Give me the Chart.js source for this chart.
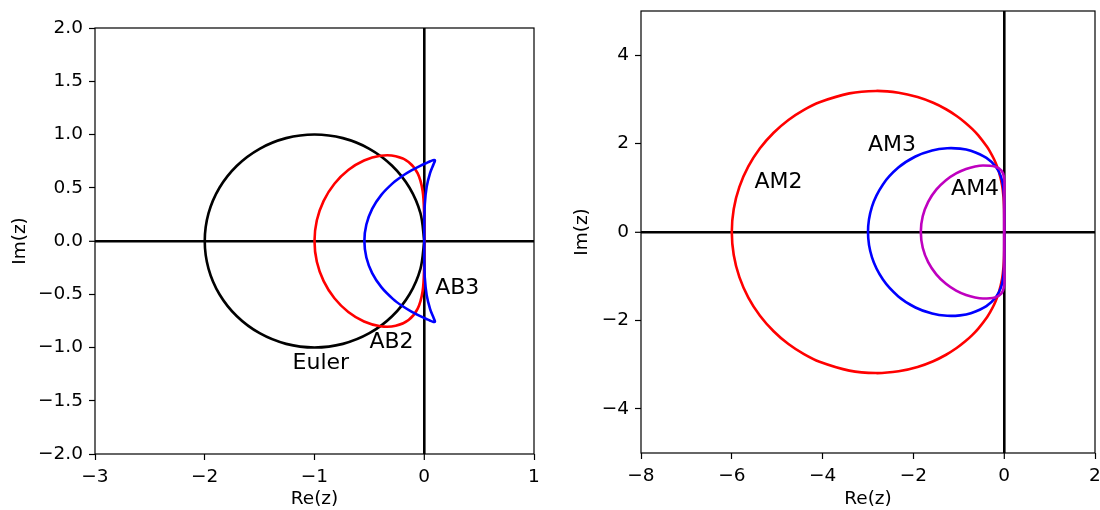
<!DOCTYPE html>
<html>
<head>
<meta charset="utf-8">
<script src="https://cdn.jsdelivr.net/npm/chart.js@4/dist/chart.umd.min.js"></script>
<style>
  html, body { margin: 0; padding: 0; background: #fff; }
  .panel { position: absolute; top: 0; width: 550px; height: 510px; }
  #leftBox  { left: 0; }
  #rightBox { left: 550px; }
</style>
</head>
<body>
<div class="panel" id="leftBox"><canvas id="abChart" width="550" height="510"></canvas></div>
<div class="panel" id="rightBox"><canvas id="amChart" width="550" height="510"></canvas></div>

<script>
/* ============================================================
   Stability region boundaries — Adams-Bashforth / Adams-Moulton
   ============================================================ */

/* ── left panel: explicit methods ── */
const eulerX = [0, -0.0341, -0.134, -0.2929, -0.5, -0.7412, -1, -1.2588, -1.5, -1.7071, -1.866, -1.9659, -2,
                -1.9659, -1.866, -1.7071, -1.5, -1.2588, -1, -0.7412, -0.5, -0.2929, -0.134, -0.0341, 0];
const eulerY = [0, 0.2588, 0.5, 0.7071, 0.866, 0.9659, 1, 0.9659, 0.866, 0.7071, 0.5, 0.2588, 0,
                -0.2588, -0.5, -0.7071, -0.866, -0.9659, -1, -0.9659, -0.866, -0.7071, -0.5, -0.2588, 0];

const ab2X = [0, -0.0011, -0.015, -0.0596, -0.1429, -0.2601, -0.4, -0.5487, -0.6923, -0.8184, -0.9166, -0.9787, -1,
              -0.9787, -0.9166, -0.8184, -0.6923, -0.5487, -0.4, -0.2601, -0.1429, -0.0596, -0.015, -0.0011, 0];
const ab2Y = [0, 0.2546, 0.4721, 0.6352, 0.7423, 0.7964, 0.8, 0.7554, 0.6662, 0.5376, 0.3772, 0.1944, 0,
              -0.1944, -0.3772, -0.5376, -0.6662, -0.7554, -0.8, -0.7964, -0.7423, -0.6352, -0.4721, -0.2546, 0];

const ab3X = [0, 0.0003, 0.0051, 0.0221, 0.0535, 0.0856, 0.0951, 0.0972, 0.0911, 0.0768, 0.0553, 0.0275,
              -0.0414, -0.1207, -0.2032, -0.2835, -0.391, -0.4746, -0.5274, -0.5455,
              -0.5274, -0.4746, -0.391, -0.2835, -0.2032, -0.1207, -0.0414,
              0.0275, 0.0553, 0.0768, 0.0911, 0.0972, 0.0951, 0.0856, 0.0535, 0.0221, 0.0051, 0.0003, 0];
const ab3Y = [0, 0.1745, 0.347, 0.5083, 0.6396, 0.7229, 0.7456, 0.7573, 0.7604, 0.757, 0.7485, 0.7364,
              0.7034, 0.6606, 0.6081, 0.5455, 0.4332, 0.3012, 0.1545, 0,
              -0.1545, -0.3012, -0.4332, -0.5455, -0.6081, -0.6606, -0.7034,
              -0.7364, -0.7485, -0.757, -0.7604, -0.7573, -0.7456, -0.7229, -0.6396, -0.5083, -0.347, -0.1745, 0];

/* ── right panel: implicit methods ── */
const am2X = [0, -0.0002, -0.0031, -0.0152, -0.0472, -0.1144, -0.1897, -0.24, -0.3009, -0.3745, -0.5705, -0.7001,
              -0.8571, -1.0479, -1.2801, -1.5631, -1.9078, -2.3255, -2.8257, -3.411, -4.0676, -4.4104, -4.753,
              -5.079, -5.3795, -5.6359, -5.833, -5.9574, -6,
              -5.9574, -5.833, -5.6359, -5.3795, -5.079, -4.753, -4.4104, -4.0676, -3.411, -2.8257, -2.3255,
              -1.9078, -1.5631, -1.2801, -1.0479, -0.8571, -0.7001, -0.5705, -0.3745, -0.3009, -0.24, -0.1897,
              -0.1144, -0.0472, -0.0152, -0.0031, -0.0002, 0];
const am2Y = [0, 0.2618, 0.5242, 0.7896, 1.0638, 1.3563, 1.5677, 1.68, 1.7974, 1.9205, 2.1853, 2.3271,
              2.4744, 2.6255, 2.7771, 2.9231, 3.0534, 3.1515, 3.1917, 3.1364, 2.9358, 2.7636, 2.5349,
              2.2452, 1.8934, 1.4823, 1.0202, 0.5202, 0,
              -0.5202, -1.0202, -1.4823, -1.8934, -2.2452, -2.5349, -2.7636, -2.9358, -3.1364, -3.1917, -3.1515,
              -3.0534, -2.9231, -2.7771, -2.6255, -2.4744, -2.3271, -2.1853, -1.9205, -1.7974, -1.68, -1.5677,
              -1.3563, -1.0638, -0.7896, -0.5242, -0.2618, 0];

const am3X = [0, 0, -0.0004, -0.0043, -0.0219, -0.0728, -0.1846, -0.3916, -0.7347, -0.971, -1.2558, -1.5876,
              -1.9552, -2.3319, -2.6711, -2.9121, -3,
              -2.9121, -2.6711, -2.3319, -1.9552, -1.5876, -1.2558, -0.971, -0.7347, -0.3916, -0.1846,
              -0.0728, -0.0219, -0.0043, -0.0004, 0, 0];
const am3Y = [0, 0.2618, 0.5227, 0.7792, 1.0259, 1.2588, 1.4769, 1.677, 1.8381, 1.8866, 1.8958, 1.8448,
              1.7074, 1.4569, 1.0765, 0.5755, 0,
              -0.5755, -1.0765, -1.4569, -1.7074, -1.8448, -1.8958, -1.8866, -1.8381, -1.677, -1.4769,
              -1.2588, -1.0259, -0.7792, -0.5227, -0.2618, 0];

const am4X = [0, 0, 0.0003, 0.0023, 0.0059, -0.0027, -0.0589, -0.2048, -0.4657, -0.6402, -0.8403, -1.0589,
              -1.2836, -1.4966, -1.6749, -1.7945, -1.8367,
              -1.7945, -1.6749, -1.4966, -1.2836, -1.0589, -0.8403, -0.6402, -0.4657, -0.2048, -0.0589,
              -0.0027, 0.0059, 0.0023, 0.0003, 0, 0];
const am4Y = [0, 0.2618, 0.5234, 0.782, 1.0264, 1.2346, 1.3875, 1.4803, 1.5056, 1.4829, 1.4265, 1.3264,
              1.1725, 0.9577, 0.682, 0.3555, 0,
              -0.3555, -0.682, -0.9577, -1.1725, -1.3264, -1.4265, -1.4829, -1.5056, -1.4803, -1.3875,
              -1.2346, -1.0264, -0.782, -0.5234, -0.2618, 0];

/* ── ticks ── */
const abTicksX = [-3, -2, -1, 0, 1];
const abTicksY = [-2, -1.5, -1, -0.5, 0, 0.5, 1, 1.5, 2];
const amTicksX = [-8, -6, -4, -2, 0, 2];
const amTicksY = [-4, -2, 0, 2, 4];

/* ── curve labels (text + anchor in data units) ── */
const abLabels  = ['Euler', 'AB2', 'AB3'];
const abLabelX  = [-1.2, -0.5, 0.1];
const abLabelY  = [-1.2, -1.0, -0.5];
const amLabels  = ['AM2', 'AM3', 'AM4'];
const amLabelX  = [-5.5, -3.0, -1.17];
const amLabelY  = [1.0, 1.83, 0.84];

/* ─────────────────────────── helpers ─────────────────────── */

Chart.defaults.font.family = "'DejaVu Sans', sans-serif";
Chart.defaults.font.size   = 18.5;
Chart.defaults.color       = '#000';

const FONT_NOTE = "22px 'DejaVu Sans', sans-serif";

function pts(xs, ys) {
  return xs.map((x, i) => ({ x, y: ys[i] }));
}

function minus(s) {
  return String(s).replace('-', '\u2212');
}

function curve(label, xs, ys, color, order) {
  return {
    label,
    data           : pts(xs, ys),
    borderColor    : color,
    borderWidth    : 2.6,
    pointRadius    : 0,
    showLine       : true,
    fill           : false,
    tension        : 0.33,
    order,
  };
}

/* lignes Re=0 / Im=0 tracées par la grille, uniquement sur la graduation 0 */
function zeroGrid() {
  return {
    drawOnChartArea: true,
    drawTicks      : true,
    tickLength     : 6,
    tickColor      : '#000',
    tickWidth      : 1.2,
    color          : ctx => (ctx.tick && ctx.tick.value === 0 ? '#000' : 'rgba(0,0,0,0)'),
    lineWidth      : ctx => (ctx.tick && ctx.tick.value === 0 ? 2.6 : 1),
  };
}

function axis(min, max, ticks, fmt, title, size, isY, titlePad) {
  return {
    type : 'linear',
    min, max,
    grid : zeroGrid(),
    border: { display: false },
    ticks: { padding: 6, autoSkip: false, maxRotation: 0, callback: v => fmt(v) },
    title: { display: true, text: title, font: { size: 18.5 }, padding: isY ? { top: titlePad, bottom: 0 } : { top: 0, bottom: titlePad } },
    afterBuildTicks: s => { s.ticks = ticks.map(v => ({ value: v })); },
    afterFit: s => {
      if (isY) { s.width = size; s.paddingTop = 0; s.paddingBottom = 0; }
      else     { s.height = size; s.paddingLeft = 0; s.paddingRight = 0; }
    },
  };
}

/* cadre + annotations */
function framePlugin(texts, tx, ty) {
  return {
    id: 'frame',
    afterDatasetsDraw(chart) {
      const { ctx, chartArea: a, scales } = chart;
      ctx.save();
      ctx.fillStyle    = '#000';
      ctx.font         = FONT_NOTE;
      ctx.textAlign    = 'left';
      ctx.textBaseline = 'alphabetic';
      texts.forEach((t, i) => {
        ctx.fillText(t, scales.x.getPixelForValue(tx[i]), scales.y.getPixelForValue(ty[i]));
      });
      ctx.strokeStyle = '#000';
      ctx.lineWidth   = 1.2;
      ctx.strokeRect(a.left, a.top, a.right - a.left, a.bottom - a.top);
      ctx.restore();
    },
  };
}

function buildChart(id, datasets, sx, sy, pad, plugin) {
  return new Chart(document.getElementById(id), {
    type: 'scatter',
    data: { datasets },
    options: {
      responsive: false,
      animation : false,
      layout    : { padding: pad },
      plugins   : { legend: { display: false }, tooltip: { enabled: false } },
      scales    : { x: sx, y: sy },
    },
    plugins: [plugin],
  });
}

/* ── panneau gauche ── */
buildChart('abChart',
  [
    curve('Euler', eulerX, eulerY, '#000000', 3),
    curve('AB2',   ab2X,   ab2Y,   '#ff0000', 2),
    curve('AB3',   ab3X,   ab3Y,   '#0000ff', 1),
  ],
  axis(-3, 1, abTicksX, v => minus(v), 'Re(z)', 56, false, 0),
  axis(-2, 2, abTicksY, v => minus(v.toFixed(1)), 'Im(z)', 95, true, 9),
  { left: 0, right: 16, top: 28, bottom: 0 },
  framePlugin(abLabels, abLabelX, abLabelY)
);

/* ── panneau droit ── */
buildChart('amChart',
  [
    curve('AM2', am2X, am2Y, '#ff0000', 3),
    curve('AM3', am3X, am3Y, '#0000ff', 2),
    curve('AM4', am4X, am4Y, '#bf00bf', 1),
  ],
  axis(-8, 2, amTicksX, v => minus(v), 'Re(z)', 57, false, 0),
  axis(-5, 5, amTicksY, v => minus(v), 'Im(z)', 91, true, 21),
  { left: 0, right: 5, top: 11, bottom: 0 },
  framePlugin(amLabels, amLabelX, amLabelY)
);
</script>
</body>
</html>
